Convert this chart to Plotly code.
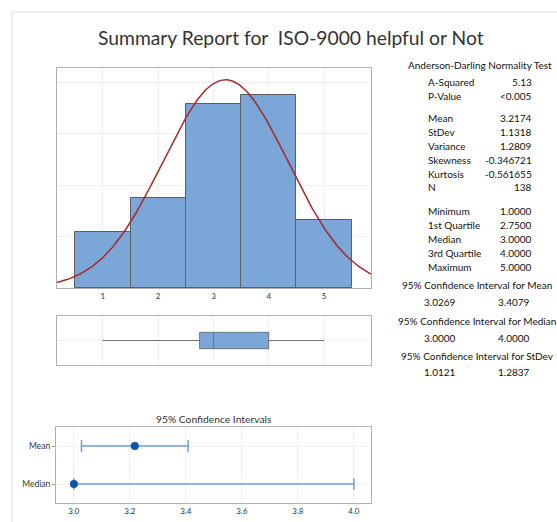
import numpy as np
import plotly.graph_objects as go

W, H = 557, 522

# ---------------- data ----------------
response_values = [1, 2, 3, 4, 5]
response_counts = [13, 21, 43, 45, 16]
mean_value = 3.2174
stdev_value = 1.1318
n_value = 138

box_q1 = 2.75
box_median = 3.0
box_q3 = 4.0
box_min = 1.0
box_max = 5.0

ci_names = ["Mean", "Median"]
ci_centers = [3.2174, 3.0000]
ci_lower = [3.0269, 3.0000]
ci_upper = [3.4079, 4.0000]

ad_labels = ["A-Squared", "P-Value"]
ad_values = ["5.13", "<0.005"]
moment_labels = ["Mean", "StDev", "Variance", "Skewness", "Kurtosis", "N"]
moment_values = ["3.2174", "1.1318", "1.2809", "-0.346721", "-0.561655", "138"]
quart_labels = ["Minimum", "1st Quartile", "Median", "3rd Quartile", "Maximum"]
quart_values = ["1.0000", "2.7500", "3.0000", "4.0000", "5.0000"]
ci_titles = ["95% Confidence Interval for Mean",
             "95% Confidence Interval for Median",
             "95% Confidence Interval for StDev"]
ci_text_lo = ["3.0269", "3.0000", "1.0121"]
ci_text_hi = ["3.4079", "4.0000", "1.2837"]

# ---------------- helpers ----------------
def px(x):
    return x / W

def py(y):
    return 1 - y / H

FONT = "Lato"
fig = go.Figure()

# Histogram
fig.add_trace(go.Bar(
    x=response_values, y=response_counts, width=1.0,
    marker=dict(color="#7ba6d8", line=dict(color="#5e5e5e", width=1)),
    xaxis="x", yaxis="y", showlegend=False, hoverinfo="skip"))

# Fitted normal curve (from mean and stdev above)
xs = np.linspace(0.17, 5.85, 300)
ys = n_value * 1.0 / (stdev_value * np.sqrt(2 * np.pi)) * np.exp(-0.5 * ((xs - mean_value) / stdev_value) ** 2)
fig.add_trace(go.Scatter(x=xs, y=ys, mode="lines",
                         line=dict(color="#a52a2a", width=1.5),
                         xaxis="x", yaxis="y", showlegend=False, hoverinfo="skip"))

# Boxplot
fig.add_trace(go.Box(
    q1=[box_q1], median=[box_median], q3=[box_q3],
    lowerfence=[box_min], upperfence=[box_max], y=[0],
    orientation="h", width=1.0, whiskerwidth=0,
    fillcolor="#7ba6d8", line=dict(color="#707070", width=1),
    xaxis="x2", yaxis="y2", showlegend=False, hoverinfo="skip"))

# Confidence intervals
fig.add_trace(go.Scatter(
    x=ci_centers, y=ci_names, mode="markers",
    marker=dict(color="#0a55a8", size=8),
    error_x=dict(type="data", symmetric=False,
                 array=[u - c for u, c in zip(ci_upper, ci_centers)],
                 arrayminus=[c - l for l, c in zip(ci_lower, ci_centers)],
                 color="#6f9fd4", thickness=1.5, width=6),
    xaxis="x3", yaxis="y3", showlegend=False, hoverinfo="skip"))

axis_line = "#b0b0b0"
grid = "#f0f0f0"

layout = dict(
    width=W, height=H, margin=dict(l=0, r=0, t=0, b=0),
    paper_bgcolor="white", plot_bgcolor="white",
    font=dict(family=FONT, color="#222"),
    bargap=0,
    xaxis=dict(domain=[px(57), px(371)], range=[0.17, 5.85],
               tickvals=response_values, ticks="", showgrid=True, gridcolor=grid,
               showline=True, mirror=True, linecolor=axis_line, zeroline=False,
               tickfont=dict(size=8, color="#333"), anchor="y", fixedrange=True),
    yaxis=dict(domain=[py(288), py(68)], range=[0, 51.4], dtick=12,
               showticklabels=False, ticks="", showgrid=True, gridcolor=grid,
               showline=True, mirror=True, linecolor=axis_line, zeroline=False,
               anchor="x"),
    xaxis2=dict(domain=[px(57), px(371)], range=[0.17, 5.85],
                tickvals=response_values, showticklabels=False, ticks="",
                showgrid=True, gridcolor=grid, showline=True, mirror=True,
                linecolor=axis_line, zeroline=False, anchor="y2"),
    yaxis2=dict(domain=[py(365), py(316)], range=[-1.5, 1.5], tickvals=[0],
                showticklabels=False, ticks="", showgrid=True, gridcolor=grid,
                showline=True, mirror=True, linecolor=axis_line, zeroline=False,
                anchor="x2"),
    xaxis3=dict(domain=[px(56), px(371)], range=[2.936, 4.061],
                tickvals=[3.0, 3.2, 3.4, 3.6, 3.8, 4.0], tickformat=".1f",
                ticks="", showgrid=True, gridcolor=grid, showline=True, mirror=True,
                linecolor=axis_line, zeroline=False,
                tickfont=dict(size=8, color="#333"), anchor="y3"),
    yaxis3=dict(domain=[py(503), py(427)], type="category",
                categoryorder="array", categoryarray=["Median", "Mean"],
                range=[-0.5, 1.5], ticks="outside", ticklen=3, tickcolor="#999",
                showgrid=True, gridcolor=grid, showline=True, mirror=True,
                linecolor=axis_line, zeroline=False,
                tickfont=dict(size=8.5, color="#333"), anchor="x3"),
)

annotations = []
annotations.append(dict(text="Summary Report for  ISO-9000 helpful or Not",
                        x=px(291), y=py(37), xref="paper", yref="paper",
                        xanchor="center", yanchor="middle", showarrow=False,
                        font=dict(size=19.3, color="#333", family=FONT)))
annotations.append(dict(text="95% Confidence Intervals",
                        x=px(214), y=py(419), xref="paper", yref="paper",
                        xanchor="center", yanchor="middle", showarrow=False,
                        font=dict(size=10.3, color="#333", family=FONT)))

SF = 10
annotations.append(dict(text="Anderson-Darling Normality Test",
                        x=px(480), y=py(65), xref="paper", yref="paper",
                        xanchor="center", yanchor="middle", showarrow=False,
                        font=dict(size=SF, color="#111")))

def add_rows(labels, values, ys):
    for lab, val, yy in zip(labels, values, ys):
        annotations.append(dict(text=lab, x=px(426), y=py(yy), xref="paper", yref="paper",
                                xanchor="left", yanchor="middle", showarrow=False,
                                font=dict(size=SF, color="#111")))
        annotations.append(dict(text=val, x=px(534), y=py(yy), xref="paper", yref="paper",
                                xanchor="right", yanchor="middle", showarrow=False,
                                font=dict(size=SF, color="#111")))

add_rows(ad_labels, ad_values, [82, 96])
add_rows(moment_labels, moment_values, [118, 132, 146, 160, 174, 187])
add_rows(quart_labels, quart_values, [211, 225, 239, 253, 267])

for t, lo, hi, yt, yv in zip(ci_titles, ci_text_lo, ci_text_hi, [285, 321, 356], [302, 338, 372]):
    annotations.append(dict(text=t, x=px(477), y=py(yt), xref="paper", yref="paper",
                            xanchor="center", yanchor="middle", showarrow=False,
                            font=dict(size=SF, color="#111")))
    annotations.append(dict(text=lo, x=px(440), y=py(yv), xref="paper", yref="paper",
                            xanchor="center", yanchor="middle", showarrow=False,
                            font=dict(size=SF, color="#111")))
    annotations.append(dict(text=hi, x=px(514), y=py(yv), xref="paper", yref="paper",
                            xanchor="center", yanchor="middle", showarrow=False,
                            font=dict(size=SF, color="#111")))

layout["annotations"] = annotations
layout["shapes"] = [
    dict(type="line", xref="paper", yref="paper", x0=px(12), x1=1, y0=py(12), y1=py(12),
         line=dict(color="#dddddd", width=1)),
    dict(type="line", xref="paper", yref="paper", x0=px(12), x1=px(12), y0=py(12), y1=0,
         line=dict(color="#dddddd", width=1)),
]

fig.update_layout(**layout)
fig.write_html("out.html",
               config={"displayModeBar": False},
               post_script="document.body.style.margin='0';document.body.style.overflow='hidden';")
